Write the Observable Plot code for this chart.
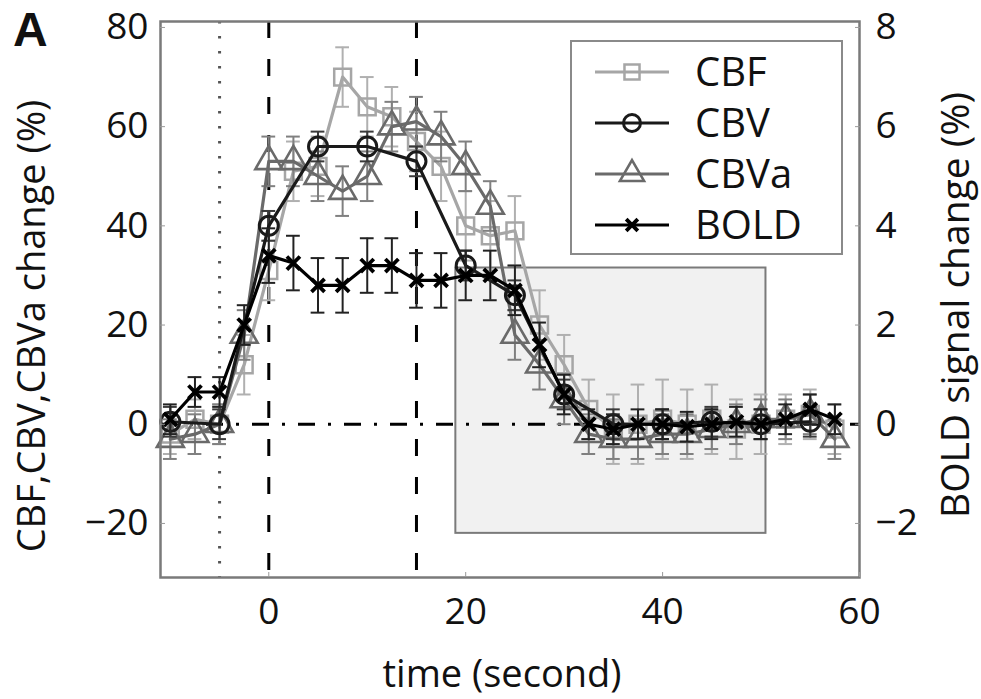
<!DOCTYPE html>
<html><head><meta charset="utf-8">
<script src="https://cdn.jsdelivr.net/npm/d3@7"></script>
<script src="https://cdn.jsdelivr.net/npm/@observablehq/plot@0.6"></script>
<style>
body{margin:0;background:#fff;font-family:"Open Sans",sans-serif;}
#wrap{position:relative;width:981px;height:699px;overflow:hidden;background:#fff;}
.lbl{position:absolute;white-space:nowrap;color:#111;font-family:"Open Sans",sans-serif;line-height:1.1;}
</style></head><body><div id="wrap"></div>
<script>
// ---- data ----
const time = [-10,-7.5,-5,-2.5,0,2.5,5,7.5,10,12.5,15,17.5,20,22.5,25,27.5,30,32.5,35,37.5,40,42.5,45,47.5,50,52.5,55,57.5];
const cbf    = [-2,1,0,12,31,51,52,70,64,62,57,52,40,38,39,20,12,3,-1,0,1,0,1,-1,0,1,2,-1];
const cbfErr = [4,4,4,6,6,6,6,6,6,6,6,7,7,7,7,7,6,6,7,8,8,7,7,6,6,5,5,5];
const cbva    = [-3,-2,0,18,53,53,50,47,50,60,61,58,52,44,18,12,5,-2,-3,-3,-2,-2,-1,0,1,1,2,-3];
const cbvaErr = [4,4,4,5,5,5,5,5,5,5,5,5,5,5,5,5,5,4,4,4,4,4,4,4,4,4,4,4];
const boldPct = [0.1,0.65,0.65,2.0,3.4,3.25,2.8,2.8,3.2,3.2,2.9,2.9,3.0,3.0,2.7,1.6,0.6,0.0,-0.1,0.0,0.0,-0.05,0.0,0.05,0.0,0.1,0.3,0.1];
const boldErr = [0.3,0.3,0.3,0.4,0.55,0.55,0.55,0.55,0.55,0.55,0.55,0.55,0.5,0.5,0.5,0.45,0.4,0.3,0.3,0.3,0.3,0.3,0.3,0.3,0.3,0.3,0.3,0.3];
const cbvTime = [-10,-5,0,5,10,15,20,25,30,35,40,45,50,55];
const cbv     = [0.5,0,40,56,56,53,32,26,6,0,0,0.5,0,0.5];
const cbvErr  = [3,3,3,3,3,3,3,3,3,3,3,3,3,3];
const xTicks = [0,20,40,60];
const yTicks = [-20,0,20,40,60,80];
const boldFactor = 10; // right axis (BOLD %) = left axis / 10
const shadedBox = [{x1:19, x2:50.5, y1:-22, y2:31.5}];
const seriesNames = ["CBF","CBV","CBVa","BOLD"];

// ---- build ----
function rows(t, v, e, k=1){ return t.map((tt,i)=>({t:tt, v:v[i]*k, lo:(v[i]-e[i])*k, hi:(v[i]+e[i])*k})); }
const dCBF = rows(time, cbf, cbfErr);
const dCBVa = rows(time, cbva, cbvaErr);
const dCBV = rows(cbvTime, cbv, cbvErr);
const dBOLD = rows(time, boldPct, boldErr, boldFactor);

const style = {
  CBF:{c:"#a6a6a6", bar:"#b0b0b0", symbol:"square", r:9.5, sw:2.5},
  CBV:{c:"#1a1a1a", bar:"#3a3a3a", symbol:"circle", r:9.5, sw:3},
  CBVa:{c:"#6a6a6a", bar:"#808080", symbol:"triangle", r:10, sw:2.6},
  BOLD:{c:"#000", bar:"#222", symbol:"times", r:6, sw:3.8}
};
const capW = 0.7;
function series(d, s){
  return [
    Plot.ruleX(d, {x:"t", y1:"lo", y2:"hi", stroke:s.bar, strokeWidth:2}),
    Plot.ruleY(d, {x1:r=>r.t-capW, x2:r=>r.t+capW, y:"lo", stroke:s.bar, strokeWidth:2}),
    Plot.ruleY(d, {x1:r=>r.t-capW, x2:r=>r.t+capW, y:"hi", stroke:s.bar, strokeWidth:2}),
    Plot.line(d, {x:"t", y:"v", stroke:s.c, strokeWidth:3.2}),
    Plot.dot(d, {x:"t", y:"v", symbol:s.symbol, r:s.r, stroke:s.c, strokeWidth:s.sw, fill:"none"})
  ];
}
const minus = s => String(s).replace("-", "\u2212");

const chart = Plot.plot({
  width:981, height:699,
  marginLeft:160, marginRight:122, marginTop:21, marginBottom:122,
  x:{domain:[-11,60]},
  y:{domain:[-30.9,81.2]},
  style:{fontFamily:"Open Sans", fontSize:"37px", color:"#111", background:"transparent", overflow:"visible"},
  marks:[
    Plot.rect(shadedBox, {x1:"x1", x2:"x2", y1:"y1", y2:"y2", fill:"#f1f1f1", stroke:"#7a7a7a", strokeWidth:2}),
    Plot.ruleY([0], {stroke:"#000", strokeWidth:3, strokeDasharray:"17,13,3,13"}),
    Plot.ruleX([-5], {stroke:"#555", strokeWidth:3, strokeDasharray:"2.5,12.5"}),
    Plot.ruleX([0,15], {stroke:"#000", strokeWidth:3, strokeDasharray:"17,21"}),
    ...series(dCBF, style.CBF),
    ...series(dCBVa, style.CBVa),
    ...series(dCBV, style.CBV),
    ...series(dBOLD, style.BOLD),
    Plot.frame({stroke:"#7a7a7a", strokeWidth:2.5}),
    Plot.axisX(xTicks, {tickSize:-5, tickPadding:25, label:null, stroke:"#999", fill:"#111"}),
    Plot.axisY(yTicks, {anchor:"left", tickSize:-5, tickPadding:17, label:null, stroke:"#999", fill:"#111", tickFormat:d=>minus(d)}),
    Plot.axisY(yTicks, {anchor:"right", tickSize:-5, tickPadding:21, label:null, stroke:"#999", fill:"#111", tickFormat:d=>minus(d/boldFactor)})
  ]
});
const wrap = document.getElementById("wrap");
chart.style.position = "absolute"; chart.style.left = "0"; chart.style.top = "0";
wrap.appendChild(chart);

function addLabel(text, css){
  const el = document.createElement("div");
  el.className = "lbl"; el.textContent = text;
  Object.assign(el.style, css);
  wrap.appendChild(el);
  return el;
}
addLabel("A", {left:"13px", top:"4px", fontFamily:"Liberation Sans, Arial, sans-serif", fontWeight:"bold", fontSize:"48px"});
addLabel("time (second)", {left:"502px", top:"673px", fontSize:"38px", transform:"translate(-50%,-50%)"});
addLabel("CBF,CBV,CBVa change (%)", {left:"31px", top:"326px", fontSize:"38px", transform:"translate(-50%,-50%) rotate(-90deg)"});
addLabel("BOLD signal change (%)", {left:"954px", top:"305px", fontSize:"39px", transform:"translate(-50%,-50%) rotate(-90deg)"});

// legend
const leg = document.createElement("div");
Object.assign(leg.style, {position:"absolute", left:"570px", top:"40px", width:"273px", height:"215px", border:"2.5px solid #8a8a8a", boxSizing:"border-box", background:"#fff"});
wrap.appendChild(leg);
const ls = d3.select(leg).append("svg").attr("width", 268).attr("height", 210).style("position","absolute").style("left","0").style("top","0");
const symMap = {square:d3.symbolSquare, circle:d3.symbolCircle, triangle:d3.symbolTriangle, times:d3.symbolTimes};
seriesNames.forEach((n,i)=>{
  const s = style[n];
  const cy = 30 + i*51;
  ls.append("line").attr("x1",23).attr("x2",97).attr("y1",cy).attr("y2",cy).attr("stroke",s.c).attr("stroke-width",3.2);
  ls.append("path").attr("transform",`translate(60,${cy})`)
    .attr("d", d3.symbol(symMap[s.symbol], Math.PI*s.r*s.r*0.8)())
    .attr("fill","none").attr("stroke",s.c).attr("stroke-width",s.sw);
  ls.append("text").attr("x",123).attr("y",cy).attr("dy","0.36em").attr("font-family","Open Sans").attr("font-size",40).attr("fill","#111").text(n);
});
</script>
</body></html>
